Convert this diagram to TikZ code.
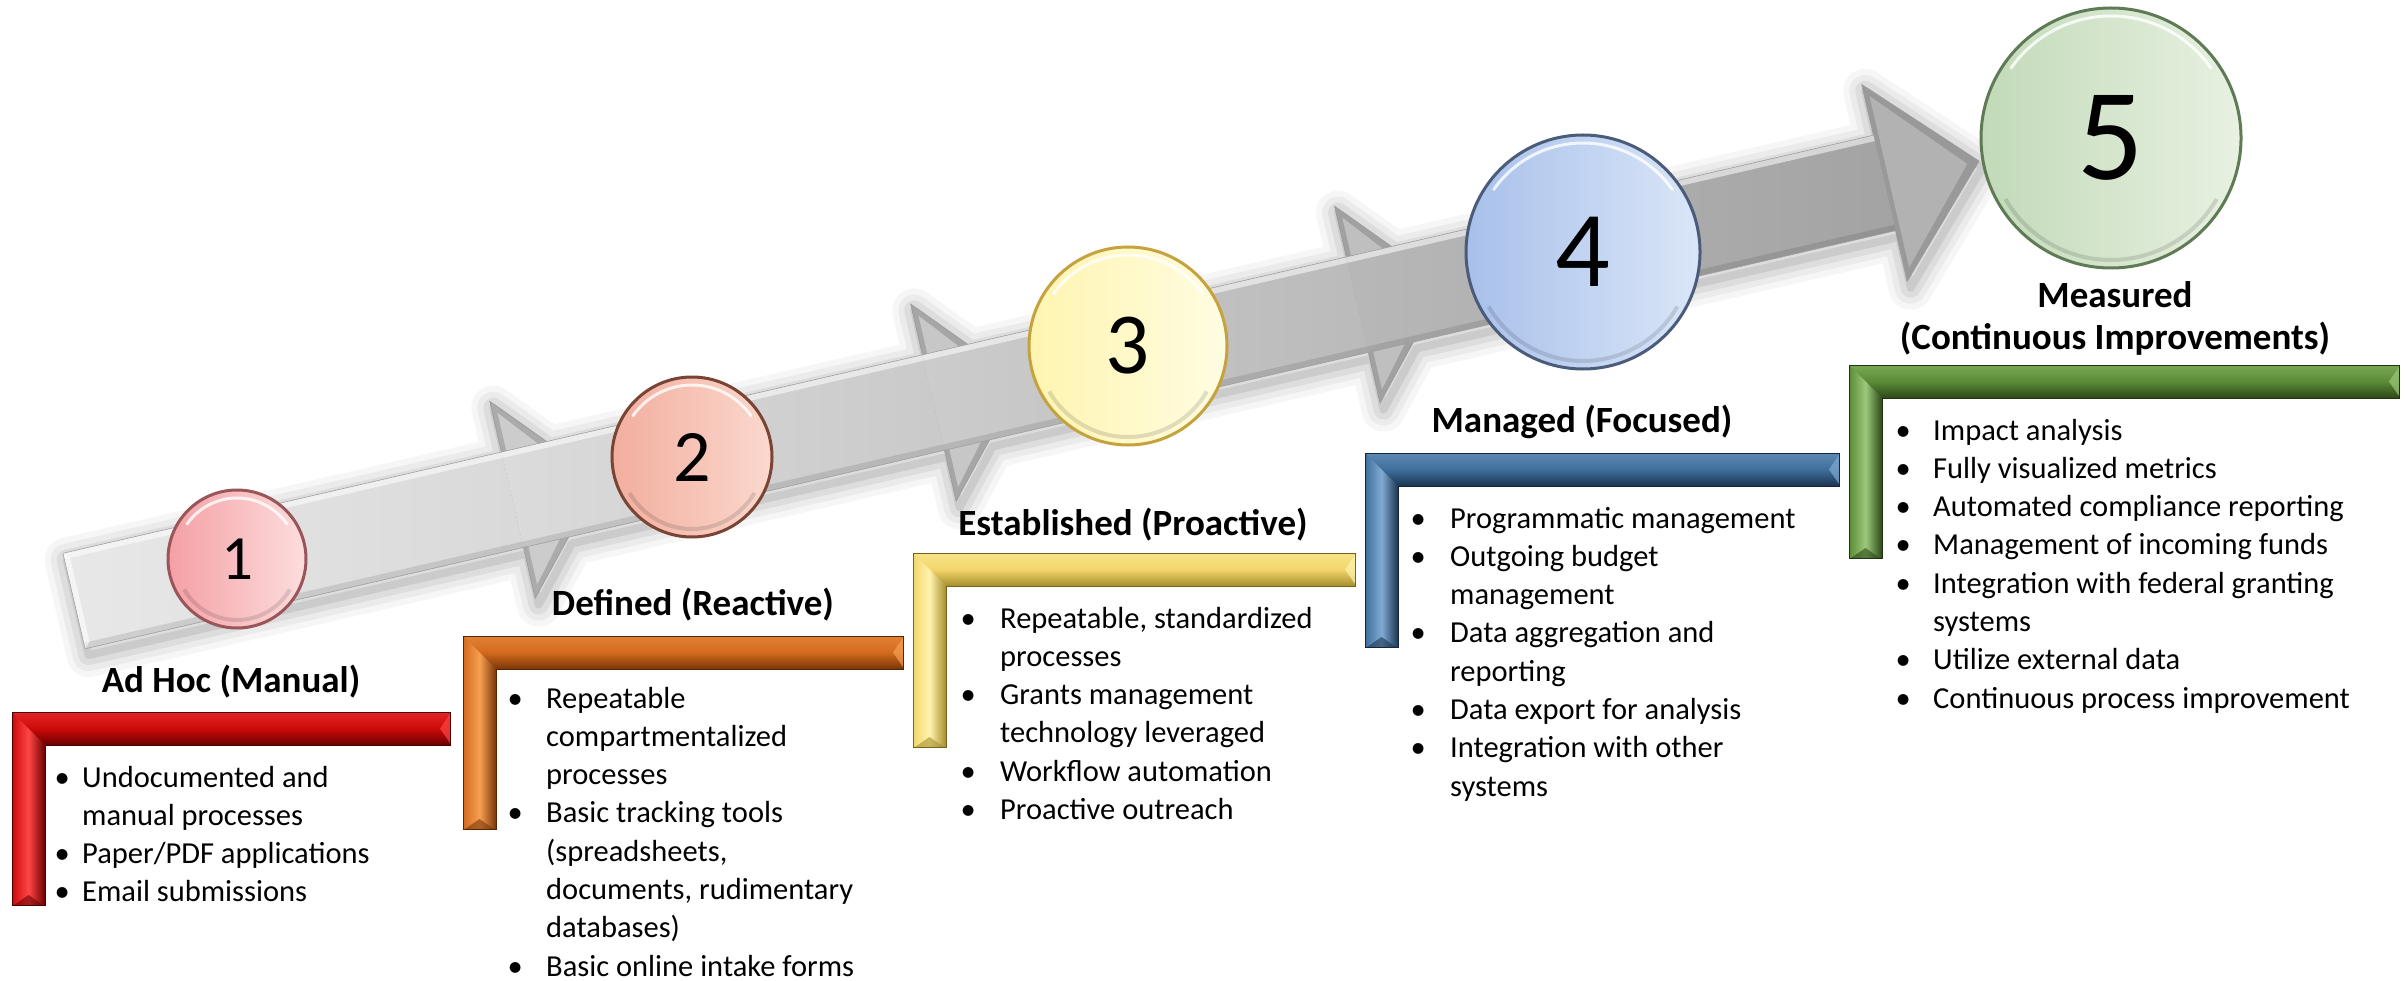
\documentclass[tikz,border=0pt]{standalone}
\usepackage{fontspec}
\setmainfont{Carlito}
\usetikzlibrary{calc}

\definecolor{redB}{HTML}{CC0A0A}\definecolor{redL}{HTML}{FF4545}\definecolor{redD}{HTML}{6B0000}
\definecolor{orB}{HTML}{D26A1E}\definecolor{orL}{HTML}{F7A050}\definecolor{orD}{HTML}{7A3608}
\definecolor{yeB}{HTML}{F2D66B}\definecolor{yeL}{HTML}{FFF3AE}\definecolor{yeD}{HTML}{A68E2C}
\definecolor{blB}{HTML}{3F6E9B}\definecolor{blL}{HTML}{80AAD2}\definecolor{blD}{HTML}{1C3652}
\definecolor{grB}{HTML}{5C8B37}\definecolor{grL}{HTML}{9CC97A}\definecolor{grD}{HTML}{2C4718}

\definecolor{b1L}{HTML}{F4A0A4}\definecolor{b1R}{HTML}{FDDDDE}\definecolor{b1D}{HTML}{9A5558}
\definecolor{b2L}{HTML}{F2AE9E}\definecolor{b2R}{HTML}{FBD8CE}\definecolor{b2D}{HTML}{7A4434}
\definecolor{b3L}{HTML}{FFF4B0}\definecolor{b3R}{HTML}{FFFDE2}\definecolor{b3D}{HTML}{C6A23E}
\definecolor{b4L}{HTML}{A8C0EA}\definecolor{b4R}{HTML}{DAE6F8}\definecolor{b4D}{HTML}{4B5B7A}
\definecolor{b5L}{HTML}{C2DAB8}\definecolor{b5R}{HTML}{E8F1E2}\definecolor{b5D}{HTML}{5F7B56}

\newlength\bw
\newcommand\bl{\makebox[\bw][l]{\textbullet}}
\newcommand\ind{\hspace*{\bw}}

% L-shaped bevelled bracket: x0, x1, y0, yb, base, light, dark
\newcommand\Lbracket[7]{%
  \fill[#5] (#1,#3) -- (#2,#3) -- (#2,{#3+33}) -- ({#1+33},{#3+33}) -- ({#1+33},#4) -- (#1,#4) -- cycle;
  \shade[top color=#6!45!#5, bottom color=#7, middle color=#5]
    (#1,#3) -- (#2,#3) -- (#2,{#3+33}) -- ({#1+33},{#3+33}) -- cycle;
  \shade[left color=#5, right color=#7, middle color=#6]
    (#1,#3) -- ({#1+33},{#3+33}) -- ({#1+33},#4) -- (#1,#4) -- cycle;
  \fill[#6, opacity=.7] (#2,{#3+2}) -- ({#2-10},{#3+16.5}) -- (#2,{#3+31}) -- cycle;
  \fill[#7, opacity=.6] ({#1+2},#4) -- ({#1+16.5},{#4-10}) -- ({#1+31},#4) -- cycle;
  \draw[#7!70!black, line width=.8pt]
    (#1,#3) -- (#2,#3) -- (#2,{#3+33}) -- ({#1+33},{#3+33}) -- ({#1+33},#4) -- (#1,#4) -- cycle;
}

% arrow segment in local (along, across) coordinates: a b c shaftL shaftR head headInner
\newcommand\seg[7]{%
  \fill[#6] (#2,-101) -- (#3,0) -- (#2,101) -- cycle;
  \fill[#7] ({#2+5},-88) -- ({#3-12},0) -- ({#2+5},88) -- cycle;
  \draw[gray!80, line width=.6pt] (#2,-101) -- (#3,0) -- (#2,101) -- cycle;
  \shade[left color=#4, right color=#5] (#1,-49) -- (#2,-49) -- (#2,49) -- (#1,49) -- cycle;
  \fill[white, opacity=.55] (#1,-49) -- (#2,-49) -- (#2,-43) -- (#1,-43) -- cycle;
  \fill[black, opacity=.10] (#1,43) -- (#2,43) -- (#2,49) -- (#1,49) -- cycle;
  \draw[gray!75, line width=.6pt] (#1,-49) -- (#2,-49) (#1,49) -- (#2,49);
}

\tikzset{
  title/.style={font=\fontsize{37}{42}\selectfont\bfseries, inner sep=0pt, anchor=base},
  blist/.style={font=\fontsize{30.5}{38.3}\selectfont, inner sep=0pt, anchor=base west},
  ball/.style n args={5}{circle, inner sep=0pt, minimum size=#1pt, left color=#2, right color=#3,
    draw=#4, line width=3pt, font=\fontsize{#5}{#5}\selectfont},
}

\begin{document}
\begin{tikzpicture}[x=1pt, y=-1pt]
\fill[white] (0,0) rectangle (2405,981);
\useasboundingbox (0,0) rectangle (2405,981);

% ---------- the arrow ----------
\begin{scope}[shift={(74pt,-601pt)}, x={(0.9744pt,0.2250pt)}, y={(0.2250pt,-0.9744pt)}]
  \begin{scope}[shift={(2,7)}]
  \foreach \lw/\op in {44/.035,32/.045,20/.06,8/.08}{
    \draw[black, opacity=\op, line width=\lw pt, line join=round]
      (0,-49) -- (450,-49) -- (450,-101) -- (496,-49) -- (882,-49) -- (882,-101) -- (928,-49)
      -- (1317,-49) -- (1317,-101) -- (1363,-49) -- (1858,-49) -- (1858,-101) -- (1955,0)
      -- (1858,101) -- (1858,49) -- (1363,49) -- (1317,101) -- (1317,49) -- (928,49)
      -- (882,101) -- (882,49) -- (496,49) -- (450,101) -- (450,49) -- (0,49) -- cycle;
  }
  \end{scope}
  \seg{0}{450}{540}{black!9}{black!15}{black!33}{black!20}
  \fill[white, opacity=.6] (0,-49) -- (6,-43) -- (6,43) -- (0,49) -- cycle;
  \draw[gray!75, line width=.6pt] (0,-49) -- (0,49);
  \seg{450}{882}{972}{black!14}{black!21}{black!35}{black!22}
  \seg{882}{1317}{1407}{black!20}{black!27}{black!37}{black!25}
  \seg{1317}{1858}{1955}{black!28}{black!36}{black!40}{black!30}
\end{scope}

% ---------- circles ----------
\node[ball={138}{b1L}{b1R}{b1D}{63}] (c1) at (237,559) {1};
\node[ball={160}{b2L}{b2R}{b2D}{74}] (c2) at (692,457) {2};
\node[ball={198}{b3L}{b3R}{b3D}{87}] (c3) at (1128,346) {3};
\node[ball={234}{b4L}{b4R}{b4D}{108}] (c4) at (1583,252) {4};
\node[ball={260}{b5L}{b5R}{b5D}{131}] (c5) at (2111,138) {5};
\foreach \c/\r in {c1/69,c2/80,c3/99,c4/117,c5/130}{
  \pgfmathsetmacro\rr{\r-8}
  \draw[white, opacity=.8, line width=3pt, line cap=round]
    ($(\c.center)+(215:\rr)$) arc[start angle=215, end angle=325, radius=\rr];
  \draw[black, opacity=.12, line width=4pt]
    ($(\c.center)+(30:\rr)$) arc[start angle=30, end angle=150, radius=\rr];
}

% ---------- brackets ----------
\Lbracket{12}{450}{712}{905}{redB}{redL}{redD}
\Lbracket{463}{903}{636}{829}{orB}{orL}{orD}
\Lbracket{913}{1355}{553}{747}{yeB}{yeL}{yeD}
\Lbracket{1365}{1839}{453}{647}{blB}{blL}{blD}
\Lbracket{1849}{2399}{365}{558}{grB}{grL}{grD}

% ---------- titles ----------
\node[title] (t1) at (231,692) {Ad Hoc (Manual)};
\node[title] (t2) at (693,615) {Defined (Reactive)};
\node[title] (t3) at (1133,535) {Established (Proactive)};
\node[title] (t4) at (1582,432) {Managed (Focused)};
\node[title] (t5) at (2115,308) {\begin{tabular}[t]{@{}c@{}}Measured\\(Continuous Improvements)\end{tabular}};

% ---------- bullet lists ----------
\node[blist] (l1) at (54.5,787) {\setlength\bw{27.5pt}\begin{tabular}[t]{@{}l@{}}
\bl Undocumented and\\
\ind manual processes\\
\bl Paper/PDF applications\\
\bl Email submissions
\end{tabular}};

\node[blist] (l2) at (507.5,708) {\setlength\bw{38.5pt}\begin{tabular}[t]{@{}l@{}}
\bl Repeatable\\
\ind compartmentalized\\
\ind processes\\
\bl Basic tracking tools\\
\ind (spreadsheets,\\
\ind documents, rudimentary\\
\ind databases)\\
\bl Basic online intake forms
\end{tabular}};

\node[blist] (l3) at (960.5,628) {\setlength\bw{39.5pt}\begin{tabular}[t]{@{}l@{}}
\bl Repeatable, standardized\\
\ind processes\\
\bl Grants management\\
\ind technology leveraged\\
\bl Workflow automation\\
\bl Proactive outreach
\end{tabular}};

\node[blist] (l4) at (1410.5,528) {\setlength\bw{39.5pt}\begin{tabular}[t]{@{}l@{}}
\bl Programmatic management\\
\bl Outgoing budget\\
\ind management\\
\bl Data aggregation and\\
\ind reporting\\
\bl Data export for analysis\\
\bl Integration with other\\
\ind systems
\end{tabular}};

\node[blist] (l5) at (1895.5,440) {\setlength\bw{37.5pt}\begin{tabular}[t]{@{}l@{}}
\bl Impact analysis\\
\bl Fully visualized metrics\\
\bl Automated compliance reporting\\
\bl Management of incoming funds\\
\bl Integration with federal granting\\
\ind systems\\
\bl Utilize external data\\
\bl Continuous process improvement
\end{tabular}};
\end{tikzpicture}
\end{document}
